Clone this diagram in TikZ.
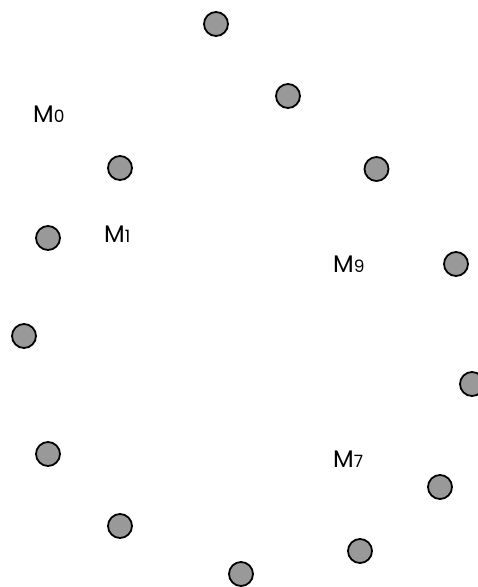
\documentclass[tikz,border=0pt]{standalone}
\usepackage{fontspec}
\setmainfont{Poppins}
\usepackage{tikz}
\usetikzlibrary{positioning}
\definecolor{dotGray}{RGB}{153,153,153}
\newcommand{\mlabel}[1]{M{\fontsize{17}{17}\selectfont #1}}

\begin{document}
\begin{tikzpicture}[x=1pt,y=-1pt,
          dot/.style={circle, draw=black, fill=dotGray, line width=1.8pt,
            minimum size=24pt, inner sep=0pt},
          tag/.style={anchor=base west, inner sep=0pt, font=\fontsize{24}{24}\selectfont}
        ]
          \useasboundingbox (0,0) rectangle (478,587);
          \node[dot] (d0) at (216,24) {};
          \node[dot] (d1) at (288,96) {};
          \node[dot] (d2) at (376.5,169) {};
          \node[dot] (d3) at (456,264) {};
          \node[dot] (d4) at (472,384) {};
          \node[dot] (d5) at (440,487) {};
          \node[dot] (d6) at (360,551) {};
          \node[dot] (d7) at (241,574) {};
          \node[dot] (d8) at (120,526) {};
          \node[dot] (d9) at (48,454) {};
          \node[dot] (d10) at (24,336) {};
          \node[dot] (d11) at (48,238) {};
          \node[dot] (d12) at (120,168) {};
          \node[tag] (lab0) at (33,122) {\mlabel{0}};
          \node[tag] (lab1) at (104,242) {\mlabel{1}};
          \node[tag] (lab9) at (333,272) {\mlabel{9}};
          \node[tag] (lab7) at (333,467) {\mlabel{7}};
        \end{tikzpicture}
\end{document}
